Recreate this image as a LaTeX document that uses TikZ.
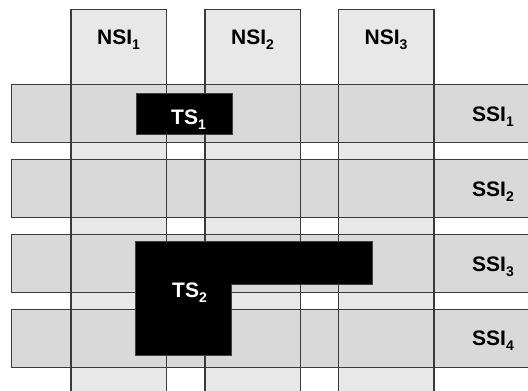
\documentclass[tikz,border=0pt]{standalone}
\usepackage{fontspec}
\setmainfont{Liberation Sans}
\definecolor{colgray}{HTML}{E8E8E8}
\definecolor{rowgray}{HTML}{D9D9D9}
\definecolor{linegray}{HTML}{3A3A3A}
\newcommand\subidx[1]{\raisebox{-5pt}{\fontsize{14}{14}\selectfont #1}}
\begin{document}
\begin{tikzpicture}[x=1pt,y=-1pt,
  colbox/.style={rectangle, inner sep=0pt, outer sep=0pt, anchor=north west,
    minimum width=95.5pt, minimum height=400pt, fill=colgray},
  rowbox/.style={rectangle, inner sep=0pt, outer sep=0pt, anchor=north west,
    minimum width=530pt, minimum height=58.5pt, fill=rowgray},
  border/.style={draw=linegray, line width=1.1pt},
  lbl/.style={font=\fontsize{21}{21}\selectfont\bfseries, text=black, inner sep=0pt, anchor=base},
  tslbl/.style={lbl, text=white},
  tsbox/.style={fill=black, draw=black!75, line width=0.6pt}]
\useasboundingbox (0,0) rectangle (528,391);
\clip (0,0) rectangle (528,391);
% fills: columns below rows
\node[colbox] (c1) at (71,9.3) {};
\node[colbox] (c2) at (205,9.3) {};
\node[colbox] (c3) at (338.5,9.3) {};
\node[rowbox] (r1) at (11.7,84.3) {};
\node[rowbox] (r2) at (11.7,159.3) {};
\node[rowbox] (r3) at (11.7,234.3) {};
\node[rowbox] (r4) at (11.7,309.3) {};
% borders on top
\foreach \n in {r1,r2,r3,r4,c1,c2,c3}
  \draw[border] (\n.north west) rectangle (\n.south east);
% labels
\node[lbl] (n1) at (118.5,44.3) {NSI\subidx{1}};
\node[lbl] (n2) at (252.5,44.3) {NSI\subidx{2}};
\node[lbl] (n3) at (386,44.3) {NSI\subidx{3}};
\node[lbl] (s1) at (493,121.5) {SSI\subidx{1}};
\node[lbl] (s2) at (493,196.5) {SSI\subidx{2}};
\node[lbl] (s3) at (493,271) {SSI\subidx{3}};
\node[lbl] (s4) at (493,345.5) {SSI\subidx{4}};
% TS shapes
\draw[tsbox] (136.7,93.3) rectangle (232.3,134.3);
\draw[tsbox] (135.5,241.7) -- (372.3,241.7) -- (372.3,284.3) -- (230.8,284.3)
  -- (230.8,355) -- (135.5,355) -- cycle;
\node[tslbl] (t1) at (188.5,124) {TS\subidx{1}};
\node[tslbl] (t2) at (189.5,297.5) {TS\subidx{2}};
\end{tikzpicture}
\end{document}
